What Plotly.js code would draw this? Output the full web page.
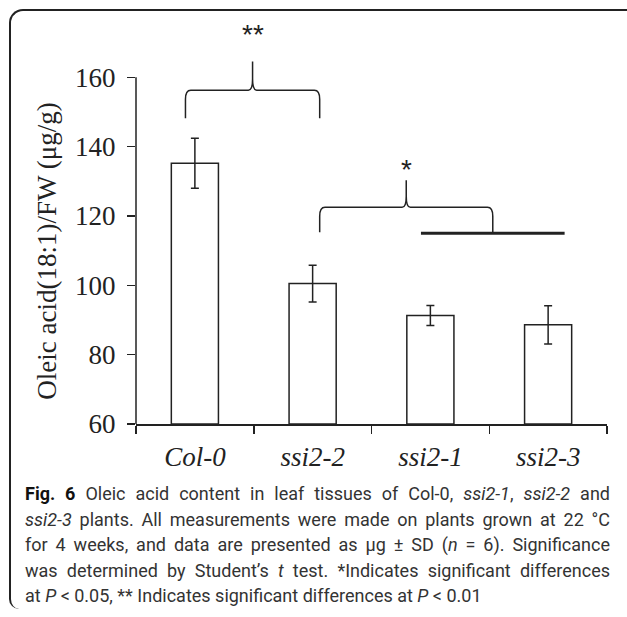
<!DOCTYPE html>
<html>
<head>
<meta charset="utf-8">
<script src="https://cdn.plot.ly/plotly-3.0.1.min.js"></script>
<style>
  html, body { margin: 0; padding: 0; width: 627px; height: 617px; overflow: hidden; background: #fff; }
  #frame { position: absolute; left: 9px; top: 9px; width: 660px; height: 600px;
           border-top: 2px solid #222; border-left: 2px solid #222; border-top-left-radius: 14px;
           border-bottom-left-radius: 10px; box-sizing: border-box; }
  #chart { position: absolute; left: 0; top: 0; width: 627px; height: 480px; }
  #caption { position: absolute; left: 25px; top: 481px;
             font-family: Roboto, "Open Sans", sans-serif; font-size: 18px; line-height: 25.5px;
             color: #333; white-space: nowrap; }
  #caption .j { width: 585px; text-align: justify; text-align-last: justify; }
  #caption b { color: #111; }
</style>
</head>
<body>
<div id="frame"></div>
<div id="chart"></div>
<div id="caption">
<div class="j"><b>Fig. 6</b> Oleic acid content in leaf tissues of Col-0, <i>ssi2-1</i>, <i>ssi2-2</i> and</div>
<div class="j"><i>ssi2-3</i> plants. All measurements were made on plants grown at 22 °C</div>
<div class="j">for 4 weeks, and data are presented as μg ± SD (<i>n</i> = 6). Significance</div>
<div class="j">was determined by Student’s <i>t</i> test. *Indicates significant differences</div>
<div>at <i>P</i> &lt; 0.05, ** Indicates significant differences at <i>P</i> &lt; 0.01</div>
</div>
<script>
// ---- data ----
const categories = ['Col-0', 'ssi2-2', 'ssi2-1', 'ssi2-3'];
const oleicAcid = [135.2, 100.5, 91.3, 88.6];
const oleicSD = [7.2, 5.3, 2.9, 5.5];
const yTickValues = [60, 80, 100, 120, 140, 160];
const yAxisTitle = 'Oleic acid(18:1)/FW (μg/g)';

// significance braces (category index positions, y values)
const sigLabels = ['**', '*'];
const sigFrom = [-0.08, 1.06];
const sigTo = [1.06, 2.53];
const sigBar = [156.3, 122.5];
const sigTip = [148.2, 115.3];
const sigPeak = [164.6, 130.3];
const sigLabelY = [172.3, 133.3];
// group line under the second brace
const groupFrom = [1.92];
const groupTo = [3.14];
const groupLevel = [115.0];

const ink = '#222';

function bracePath(xa, xb, yBar, yTip, yPeak) {
  const r = 0.045, v = 2.6;
  const xc = (xa + xb) / 2;
  const cr = 0.035, cv = 3.2;
  return 'M' + xa + ',' + yTip +
    ' L' + xa + ',' + (yBar - v) +
    ' Q' + xa + ',' + yBar + ' ' + (xa + r) + ',' + yBar +
    ' L' + (xc - cr) + ',' + yBar +
    ' Q' + xc + ',' + yBar + ' ' + xc + ',' + (yBar + cv) +
    ' L' + xc + ',' + yPeak +
    ' L' + xc + ',' + (yBar + cv) +
    ' Q' + xc + ',' + yBar + ' ' + (xc + cr) + ',' + yBar +
    ' L' + (xb - r) + ',' + yBar +
    ' Q' + xb + ',' + yBar + ' ' + xb + ',' + (yBar - v) +
    ' L' + xb + ',' + yTip;
}

const shapes = [];
const annotations = [];
for (let i = 0; i < sigLabels.length; i++) {
  shapes.push({
    type: 'path', xref: 'x', yref: 'y',
    path: bracePath(sigFrom[i], sigTo[i], sigBar[i], sigTip[i], sigPeak[i]),
    line: {color: ink, width: 1.5}
  });
  annotations.push({
    xref: 'x', yref: 'y', x: (sigFrom[i] + sigTo[i]) / 2, y: sigLabelY[i],
    xanchor: 'center', yanchor: 'middle', showarrow: false,
    text: sigLabels[i],
    font: {family: 'Liberation Sans, Arial, sans-serif', size: 28, color: ink}
  });
}
for (let i = 0; i < groupFrom.length; i++) {
  shapes.push({
    type: 'line', xref: 'x', yref: 'y',
    x0: groupFrom[i], x1: groupTo[i], y0: groupLevel[i], y1: groupLevel[i],
    line: {color: ink, width: 3}
  });
}
// y axis line spanning only the labelled range
shapes.push({
  type: 'line', xref: 'paper', yref: 'y',
  x0: 0, x1: 0, y0: yTickValues[0], y1: yTickValues[yTickValues.length - 1],
  line: {color: ink, width: 1.5}
});
// y axis title centred on the labelled range
annotations.push({
  xref: 'paper', yref: 'y', x: -0.189,
  y: (yTickValues[0] + yTickValues[yTickValues.length - 1]) / 2,
  xanchor: 'center', yanchor: 'middle', textangle: -90, showarrow: false,
  text: yAxisTitle,
  font: {family: 'Liberation Serif, Times New Roman, serif', size: 27, color: ink}
});

const baseLevel = yTickValues[0];
const trace = {
  type: 'bar',
  x: categories,
  y: oleicAcid.map(v => v - baseLevel),
  base: baseLevel,
  width: 0.4,
  marker: {color: '#ffffff', line: {color: ink, width: 1.5}},
  error_y: {type: 'data', array: oleicSD, visible: true, color: ink, thickness: 1.5, width: 4},
  hoverinfo: 'none'
};

const layout = {
  width: 627, height: 480,
  margin: {l: 136, r: 20, t: 8, b: 56},
  paper_bgcolor: 'rgba(0,0,0,0)',
  plot_bgcolor: 'rgba(0,0,0,0)',
  showlegend: false,
  xaxis: {
    type: 'category',
    range: [-0.5, 3.5],
    tickson: 'boundaries',
    ticks: 'outside', ticklen: 8, tickwidth: 1.5, tickcolor: ink,
    showline: true, linecolor: ink, linewidth: 1.5,
    showgrid: false, zeroline: false,
    ticklabelstandoff: 8,
    tickfont: {family: 'Liberation Serif, Times New Roman, serif', size: 27, color: ink, style: 'italic'}
  },
  yaxis: {
    range: [60, 180],
    tickvals: yTickValues,
    ticks: 'outside', ticklen: 8, tickwidth: 1.5, tickcolor: ink,
    showline: false, showgrid: false, zeroline: false,
    ticklabelstandoff: 6,
    tickfont: {family: 'Liberation Serif, Times New Roman, serif', size: 27, color: ink}
  },
  shapes: shapes,
  annotations: annotations
};

Plotly.newPlot('chart', [trace], layout, {displayModeBar: false, staticPlot: true});
</script>
</body>
</html>
